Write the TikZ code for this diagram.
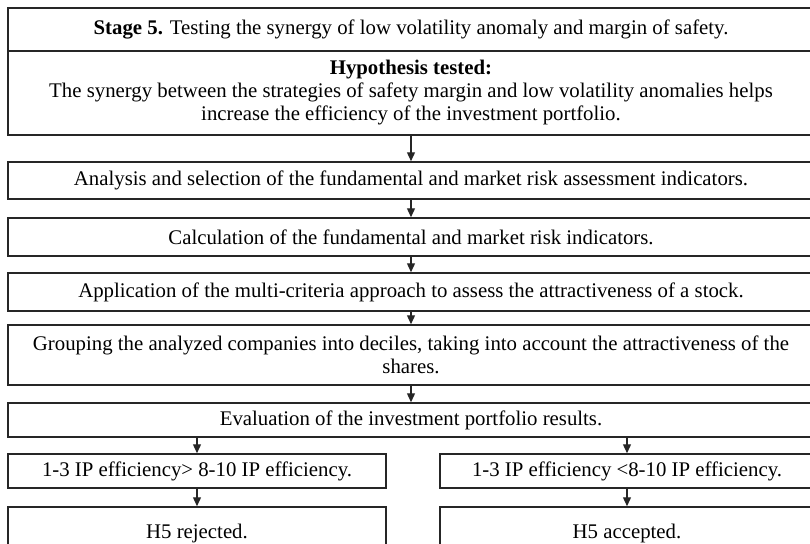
\documentclass[tikz,border=0pt]{standalone}
\usepackage{fontspec}
\setmainfont{Liberation Serif}
\usetikzlibrary{arrows.meta}

\tikzset{
  stepbox/.style={draw=black!85, line width=1.5pt, inner sep=0pt, align=center, minimum width=806pt},
  halfbox/.style={stepbox, minimum width=378pt, minimum height=34pt},
  flow/.style={-{Triangle[length=9pt,width=8pt]}, line width=1.3pt, draw=black!85},
}

\begin{document}
\begin{tikzpicture}[x=1pt, y=-1pt, font=\fontsize{20.8}{23}\selectfont]
  \useasboundingbox (0,0) rectangle (810,543);
  % main column
  \node[stepbox, minimum height=43pt] (stage) at (411,29.5)
    {\textbf{Stage 5.} Testing the synergy of low volatility anomaly and margin of safety.};
  \node[stepbox, minimum height=84pt] (hyp) at (411,93)
    {\textbf{Hypothesis tested:}\\
     The synergy between the strategies of safety margin and low volatility anomalies helps\\
     increase the efficiency of the investment portfolio.};
  \node[stepbox, minimum height=37pt] (analysis) at (411,180.5)
    {Analysis and selection of the fundamental and market risk assessment indicators.};
  \node[stepbox, minimum height=38pt] (calc) at (411,237)
    {Calculation of the fundamental and market risk indicators.};
  \node[stepbox, minimum height=38pt] (appl) at (411,292)
    {Application of the multi-criteria approach to assess the attractiveness of a stock.};
  \node[stepbox, minimum height=60pt] (group) at (411,355)
    {Grouping the analyzed companies into deciles, taking into account the attractiveness of the\\
     shares.};
  \node[stepbox, minimum height=34pt] (eval) at (411,420)
    {Evaluation of the investment portfolio results.};
  % two outcomes
  \node[halfbox] (low) at (197,471) {1-3 IP efficiency> 8-10 IP efficiency.};
  \node[halfbox, minimum width=374pt] (high) at (627,471) {1-3 IP efficiency <8-10 IP efficiency.};
  \node[halfbox, minimum height=53pt] (rej) at (197,533.5) {H5 rejected.};
  \node[halfbox, minimum width=374pt, minimum height=53pt] (acc) at (627,533.5) {H5 accepted.};

  \draw[flow] (hyp.south) -- (analysis.north);
  \draw[flow] (analysis.south) -- (calc.north);
  \draw[flow] (calc.south) -- (appl.north);
  \draw[flow] (appl.south) -- (group.north);
  \draw[flow] (group.south) -- (eval.north);
  \draw[flow] (eval.south -| low.north) -- (low.north);
  \draw[flow] (eval.south -| high.north) -- (high.north);
  \draw[flow] (low.south) -- (rej.north);
  \draw[flow] (high.south) -- (acc.north);
\end{tikzpicture}
\end{document}
